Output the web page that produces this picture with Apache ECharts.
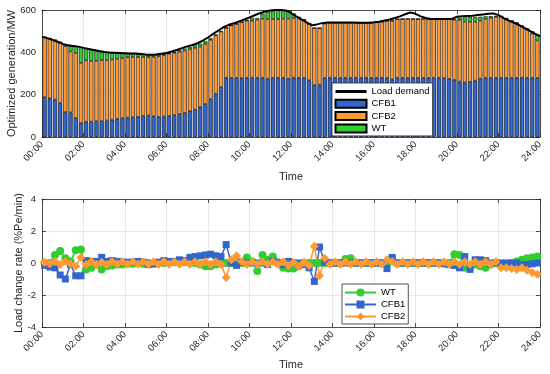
<!DOCTYPE html>
<html><head><meta charset="utf-8">
<script src="https://cdn.jsdelivr.net/npm/echarts@6/dist/echarts.min.js"></script>
<style>html,body{margin:0;padding:0;background:#fff}#c{width:550px;height:374px}</style>
</head><body><div id="c"></div>
<script>
// ---- data ----
const timeLabels = ['00:00','02:00','04:00','06:00','08:00','10:00','12:00','14:00','16:00','18:00','20:00','22:00','24:00'];
// load demand, every 15 min from 00:00 to 24:00 (97 points)
const loadDemand = [473,467,459,450,440,433,430,427, 421,416,411,406,402,399,398,397,
  396,395,394,392,390,389,390,393, 397,404,411,420,428,435,443,455,
  470,487,503,519,530,537,546,555, 565,575,585,593,598,600,600,598,
  586,570,556,542,528,532,538,541, 541,541,541,541,541,540,540,540,
  542,545,550,555,562,570,580,588, 582,570,562,558,557,557,557,558,
  568,570,572,573,576,579,582,584, 576,562,550,540,528,515,502,488, 476];
// 96 bars (15-min periods)
const cfb1 = [188,183,177,160,118,116,90,65, 72,73,74,75,78,82,86,90,
  92,94,96,100,102,98,95,97, 100,104,108,114,122,130,142,156,
  178,205,235,280,280,280,278,280, 280,280,280,276,280,280,280,275,
  280,280,280,268,245,248,280,280, 280,280,280,280,280,280,280,280,
  280,280,280,272,280,280,280,280, 280,280,280,280,280,278,275,270,
  262,258,260,266,275,280,280,280, 280,280,280,280,280,280,280,280];
const cfb2 = [284,283,281,287,311,288,307,285, 290,287,286,288,285,284,283,282,
  285,284,282,277,275,280,286,289, 293,294,294,294,292,291,285,284,
  281,275,263,236,248,255,266,269, 269,274,278,281,277,277,279,284,
  282,280,274,267,270,267,256,260, 260,260,260,260,260,260,260,260,
  262,265,269,276,277,278,278,278, 278,278,278,277,277,279,282,284,
  291,287,284,279,275,278,283,288, 290,280,269,259,244,228,208,176];
const wt = [0,0,0,2,10,28,32,75, 58,55,50,42,38,32,28,24,
  18,16,15,14,12,10,8,6, 3,5,8,10,12,12,14,12,
  8,4,2,0,0,0,0,4, 14,8,25,35,40,42,40,38,
  22,8,0,0,0,0,0,0, 0,0,0,0,0,0,0,0,
  0,0,0,6,0,0,0,0, 0,0,0,0,0,0,0,3,
  10,20,22,22,18,12,8,4, 0,0,0,0,3,6,12,28];
// load change rates (%Pe/min)
const rateWT = [0,0,0.5,0.75,0.3,0.1,0.8,0.85, -0.4,-0.3,-0.1,-0.4,-0.2,-0.15,-0.1,-0.1,
  -0.05,-0.05,0,-0.05,0,-0.05,0,0, 0.05,0.05,0.05,0.05,0,0,-0.1,-0.2,
  -0.2,-0.1,-0.05,0,0,0,0,0.35, 0.1,-0.5,0.5,0.2,0.4,0.05,-0.3,-0.35,
  -0.35,-0.2,0,0,0,0,0,0, 0,0,0.25,0.3,0,0,0,0,
  0,0,0,0.3,0,0,0,0, 0,0,0,0,0,0,0,0.55,
  0.5,-0.3,-0.3,-0.1,-0.2,-0.3,-0.1,0, -0.2,-0.2,0,0.1,0.2,0.3,0.35,0.4];
const rateCFB1 = [-0.15,-0.25,-0.3,-0.75,-1.0,-0.1,-0.8,-0.8, 0.15,0.1,0.1,0.35,0.1,0.15,0.1,0.05,
  0.05,0.05,0.1,0.05,-0.1,-0.05,0.05,0.15, 0.1,0.1,0.2,0.15,0.35,0.4,0.45,0.5,
  0.55,0.45,0.4,1.15,0,-0.15,0.05,0, 0,0,0,-0.1,0.1,0,-0.1,0.1,
  0,0,-0.1,-0.3,-1.15,1.0,0.05,0, 0,0,0,0,0,0,0,0,
  0,0,-0.35,0.35,0,0,0,0, 0,0,0,0,0,-0.05,-0.1,-0.15,
  -0.3,0.4,-0.4,0.2,0.2,0.15,0,0, 0,0,0,0,-0.1,-0.1,-0.05,0];
const rateCFB2 = [0.05,-0.05,0.1,-0.1,0.1,-0.05,-0.2,0.35, -0.1,0.1,-0.1,0.05,-0.1,0.1,-0.05,0.08,
  -0.08,0.08,-0.08,0.08,-0.08,0.08,-0.08,0.1, -0.08,0.08,-0.08,0.08,-0.08,0.08,-0.08,0.08,
  -0.08,0.08,-0.1,-0.9,0.2,0.45,0.1,-0.1, 0.08,-0.08,0.08,-0.08,0.08,-0.08,0.08,-0.15,
  0.05,-0.2,0.05,-0.15,1.05,-0.8,0.3,-0.08, 0.08,-0.08,0.08,-0.08,0.08,-0.08,0.08,-0.08,
  0.08,-0.08,0.2,0.1,-0.08,0.08,-0.08,0.08, -0.08,0.08,-0.08,0.08,-0.08,0.08,-0.08,0.08,
  -0.08,0.08,-0.08,0.08,-0.08,0.08,-0.08,0.08, -0.3,-0.3,-0.35,-0.4,-0.3,-0.45,-0.6,-0.7];

// ---- chart ----
const FONT = 'Liberation Sans, Arial, Helvetica, sans-serif';
const AX = '#262626';
const C_BLUE = '#3366cc', C_ORANGE = '#ff9933', C_GREEN = '#33cc33';
const slots = cfb1.map((_, i) => 'P' + i);   // 15-min periods (category axis for stacked bars)
const linePts = arr => arr.map((v, i) => [i * 0.25, v]);
const ratePts = arr => arr.map((v, i) => [(i + 0.5) * 0.25, v]);
const lineAx = { show: true, onZero: false, lineStyle: { color: AX, width: 0.8 } };
const tickIn = { show: true, inside: true, length: 4, lineStyle: { color: AX, width: 0.8 } };
const split = { show: true, lineStyle: { color: '#e3e3e3', width: 0.8 } };
const nameStyle = { fontFamily: FONT, fontSize: 11, color: AX };

function xAxisMain(gridIndex, gap) {
  return {
    type: 'value', gridIndex, min: 0, max: 24, interval: 2, position: 'bottom',
    name: 'Time', nameLocation: 'middle', nameGap: gap, nameMoveOverlap: false,
    nameTextStyle: nameStyle, axisLine: lineAx, axisTick: tickIn,
    axisLabel: { rotate: 45, margin: 6, fontFamily: FONT, fontSize: 9.5, color: AX,
      formatter: v => timeLabels[Math.round(v / 2)] },
    splitLine: split
  };
}
function xAxisMirror(gridIndex) {
  return { type: 'value', gridIndex, min: 0, max: 24, interval: 2, position: 'top',
    axisLine: lineAx, axisTick: tickIn, axisLabel: { show: false }, splitLine: { show: false } };
}
function yAxisMain(gridIndex, min, max, interval, name, gap) {
  return {
    type: 'value', gridIndex, min, max, interval, position: 'left',
    name, nameLocation: 'middle', nameGap: gap, nameMoveOverlap: false,
    nameTextStyle: nameStyle, axisLine: lineAx, axisTick: tickIn,
    axisLabel: { margin: 6, fontFamily: FONT, fontSize: 9.5, color: AX },
    splitLine: split
  };
}
function yAxisMirror(gridIndex, min, max, interval) {
  return { type: 'value', gridIndex, min, max, interval, position: 'right',
    axisLine: lineAx, axisTick: tickIn, axisLabel: { show: false }, splitLine: { show: false } };
}

const barStyle = c => ({ color: c, borderColor: '#000', borderWidth: 0.6 });
const legendText = { fontFamily: FONT, fontSize: 9.5, color: '#000', lineHeight: 11 };

const option = {
  animation: false,
  backgroundColor: '#fff',
  grid: [
    { left: 42, right: 10, top: 10, height: 127, outerBoundsMode: 'none', containLabel: false },
    { left: 42, right: 10, top: 199, height: 128, outerBoundsMode: 'none', containLabel: false }
  ],
  xAxis: [
    { type: 'category', gridIndex: 0, data: slots, boundaryGap: true, show: false },
    xAxisMain(0, 34.5), xAxisMirror(0),
    xAxisMain(1, 32.5), xAxisMirror(1)
  ],
  yAxis: [
    yAxisMain(0, 0, 600, 200, 'Optimized generation/MW', 25), yAxisMirror(0, 0, 600, 200),
    yAxisMain(1, -4, 4, 2, 'Load change rate (%Pe/min)', 18), yAxisMirror(1, -4, 4, 2)
  ],
  legend: [
    {
      orient: 'vertical', left: 332, top: 83, itemWidth: 31, itemHeight: 8, itemGap: 1.3,
      padding: [3, 3, 2, 2], borderColor: AX, borderWidth: 0.8, backgroundColor: '#fff',
      textStyle: legendText,
      data: [
        { name: 'Load demand', itemStyle: { opacity: 0 }, lineStyle: { width: 3 } },
        { name: 'CFB1', icon: 'rect' }, { name: 'CFB2', icon: 'rect' }, { name: 'WT', icon: 'rect' }
      ]
    },
    {
      orient: 'vertical', left: 342, top: 284, itemWidth: 31, itemHeight: 10, itemGap: 1,
      padding: [3, 3, 2, 2], borderColor: AX, borderWidth: 0.8, backgroundColor: '#fff',
      textStyle: legendText,
      formatter: n => n.trim(),
      data: ['WT ', 'CFB1 ', 'CFB2 ']
    }
  ],
  series: [
    { name: 'CFB1', type: 'bar', stack: 'gen', xAxisIndex: 0, yAxisIndex: 0, barWidth: '82%',
      itemStyle: barStyle(C_BLUE), data: cfb1 },
    { name: 'CFB2', type: 'bar', stack: 'gen', xAxisIndex: 0, yAxisIndex: 0, barWidth: '82%',
      itemStyle: barStyle(C_ORANGE), data: cfb2 },
    { name: 'WT', type: 'bar', stack: 'gen', xAxisIndex: 0, yAxisIndex: 0, barWidth: '82%',
      itemStyle: barStyle(C_GREEN), data: wt },
    { name: 'Load demand', type: 'line', xAxisIndex: 1, yAxisIndex: 0, showSymbol: false,
      z: 5, lineStyle: { color: '#000', width: 2 }, itemStyle: { color: '#000' }, data: linePts(loadDemand) },
    { name: 'WT ', type: 'line', xAxisIndex: 3, yAxisIndex: 2, symbol: 'circle', symbolSize: 8,
      lineStyle: { color: C_GREEN, width: 1.5 }, itemStyle: { color: C_GREEN }, data: ratePts(rateWT) },
    { name: 'CFB1 ', type: 'line', xAxisIndex: 3, yAxisIndex: 2, symbol: 'rect', symbolSize: 7,
      lineStyle: { color: C_BLUE, width: 1.5 }, itemStyle: { color: C_BLUE }, data: ratePts(rateCFB1) },
    { name: 'CFB2 ', type: 'line', xAxisIndex: 3, yAxisIndex: 2, symbol: 'diamond', symbolSize: 9,
      lineStyle: { color: C_ORANGE, width: 1.5 }, itemStyle: { color: C_ORANGE }, data: ratePts(rateCFB2) }
  ]
};
const chart = echarts.init(document.getElementById('c'), null, { renderer: 'canvas' });
chart.setOption(option);
</script>
</body></html>
